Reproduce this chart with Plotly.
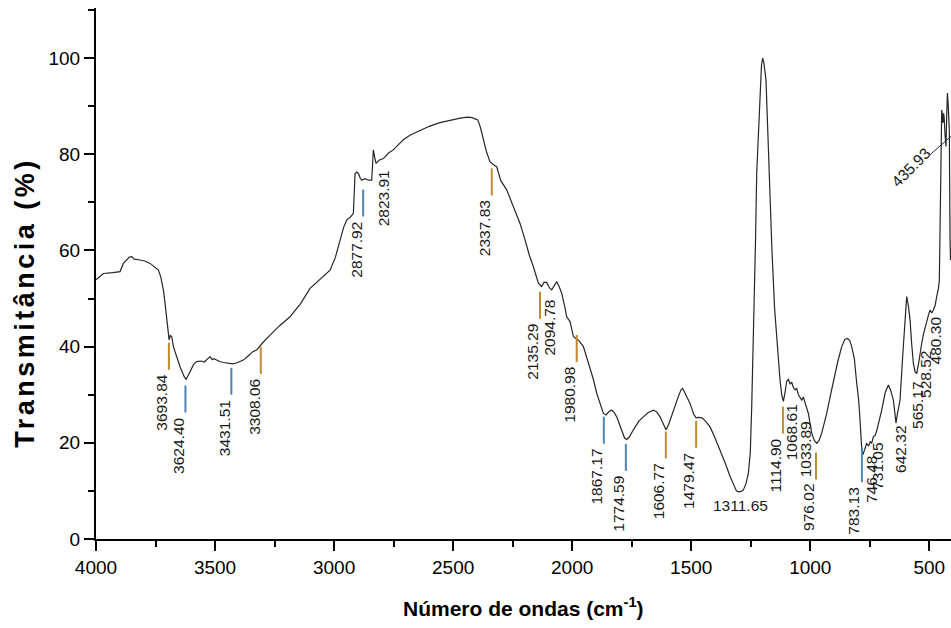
import numpy as np
import plotly.graph_objects as go

# ---------------- data ----------------
wavenumber = [4000, 3969, 3930, 3899, 3885, 3860, 3850, 3840, 3815, 3795, 3773, 3755, 3738, 3728,
              3717, 3710, 3703, 3697, 3693, 3688, 3682, 3675, 3660, 3647, 3630, 3622, 3613, 3605,
              3590, 3577, 3560, 3545, 3535, 3528, 3521, 3512, 3505, 3493, 3480, 3465, 3445, 3426,
              3410, 3395, 3381, 3360, 3340, 3325, 3300, 3269, 3230, 3185, 3140, 3101, 3060, 3017,
              2995, 2975, 2960, 2947, 2930, 2919, 2915, 2912, 2905, 2898, 2890, 2884, 2870, 2855,
              2842, 2838, 2835, 2830, 2824, 2810, 2793, 2770, 2751, 2730, 2709, 2680, 2639, 2600,
              2560, 2513, 2470, 2440, 2420, 2405, 2396, 2385, 2373, 2360, 2345, 2338, 2330, 2317,
              2300, 2275, 2250, 2219, 2198, 2180, 2163, 2150, 2142, 2128, 2118, 2107, 2095, 2086,
              2075, 2065, 2055, 2044, 2030, 2023, 2009, 1995, 1985, 1974, 1953, 1940, 1925, 1910,
              1897, 1880, 1869, 1858, 1845, 1834, 1825, 1813, 1800, 1792, 1780, 1771, 1760, 1743,
              1720, 1701, 1680, 1659, 1645, 1631, 1618, 1606, 1595, 1585, 1575, 1555, 1543, 1536,
              1528, 1515, 1505, 1490, 1480, 1470, 1455, 1440, 1421, 1400, 1379, 1355, 1337, 1320,
              1310, 1302, 1290, 1281, 1270, 1260, 1252, 1246, 1239, 1230, 1225, 1217, 1210, 1205,
              1200, 1195, 1186, 1180, 1172, 1161, 1150, 1141, 1134, 1127, 1120, 1113, 1106, 1099,
              1092, 1085, 1078, 1071, 1064, 1057, 1050, 1043, 1036, 1029, 1022, 1008, 994, 983,
              973, 963, 952, 940, 931, 917, 903, 885, 868, 855, 844, 835, 826, 815, 805, 797, 791,
              785, 779, 772, 763, 755, 748, 742, 735, 728, 721, 700, 685, 672, 663, 651, 645, 640,
              634, 623, 612, 602, 595, 588, 581, 574, 567, 560, 553, 545, 538, 532, 525, 518, 511,
              504, 497, 490, 483, 476, 469, 462, 458, 455, 452, 450, 448, 446, 443, 440, 438, 434,
              430, 427, 424, 421, 418, 416, 413, 411]
transmittance = [53.9, 55.2, 55.4, 55.6, 57.3, 58.6, 58.7, 58.2, 58.0, 57.8, 57.3, 56.6, 55.9, 54.5,
                 51.8, 49.0, 46.2, 43.5, 41.4, 42.3, 42.1, 40.0, 37.8, 35.8, 33.8, 33.2, 34.0, 34.8,
                 36.3, 36.9, 37.0, 36.8, 37.4, 37.6, 37.9, 37.3, 37.5, 37.2, 36.9, 36.7, 36.5, 36.4,
                 36.6, 36.9, 37.2, 38.1, 39.0, 39.3, 40.8, 42.4, 44.3, 46.2, 49.0, 52.1, 54.0, 55.9,
                 58.5, 62.2, 64.8, 66.3, 67.0, 67.7, 72.0, 76.0, 76.3, 76.0, 75.0, 74.6, 74.9, 74.6,
                 74.6, 77.5, 80.9, 79.5, 78.1, 78.8, 79.1, 80.3, 80.9, 82.0, 83.0, 84.0, 85.0, 85.8,
                 86.5, 87.1, 87.5, 87.7, 87.6, 87.3, 87.1, 85.5, 83.0, 80.5, 78.4, 78.1, 77.8, 77.4,
                 74.5, 72.6, 69.3, 65.6, 62.2, 59.0, 56.6, 54.5, 53.2, 52.5, 53.4, 53.3, 52.2, 51.8,
                 52.8, 53.5, 52.5, 51.1, 48.0, 46.2, 45.2, 42.1, 41.7, 41.4, 40.0, 38.0, 35.8, 33.0,
                 30.3, 27.5, 26.1, 25.8, 26.5, 26.8, 26.4, 25.4, 23.5, 22.3, 21.0, 20.7, 21.2, 22.7,
                 24.5, 25.4, 26.3, 26.8, 26.4, 25.4, 24.0, 22.7, 23.8, 25.3, 26.8, 29.5, 31.0, 31.3,
                 30.5, 29.0, 28.2, 26.0, 25.2, 25.3, 25.2, 24.5, 23.3, 21.0, 18.5, 15.5, 13.0, 11.0,
                 10.0, 9.8, 9.9, 10.2, 11.5, 13.7, 18.0, 27.5, 41.4, 62.0, 76.0, 86.5, 95.4, 98.5,
                 100.0, 99.0, 95.4, 86.5, 76.0, 60.1, 48.0, 41.4, 37.0, 33.0, 30.0, 28.6, 30.5, 32.8,
                 33.2, 32.2, 32.6, 31.5, 31.0, 31.3, 30.0, 29.5, 28.9, 29.5, 28.2, 26.1, 22.0, 20.5,
                 19.9, 20.5, 22.0, 24.3, 26.1, 29.5, 33.0, 36.8, 40.0, 41.5, 41.7, 41.3, 40.0, 37.5,
                 32.4, 29.0, 24.7, 19.5, 17.5, 18.5, 19.9, 19.3, 20.3, 19.9, 21.3, 21.5, 22.5, 26.8,
                 30.5, 32.0, 31.0, 28.9, 25.5, 24.1, 26.0, 28.9, 38.0, 46.9, 50.4, 48.5, 45.5, 40.5,
                 36.5, 34.8, 34.4, 36.5, 39.5, 40.7, 42.5, 44.0, 45.5, 46.5, 47.6, 47.0, 47.6, 48.5,
                 50.4, 52.0, 53.8, 65.0, 81.6, 86.0, 89.2, 88.5, 86.5, 88.5, 87.8, 84.0, 81.6, 88.0,
                 92.7, 90.5, 86.0, 85.0, 62.0, 58.0]

peak_labels = ["3693.84", "3624.40", "3431.51", "3308.06", "2877.92", "2823.91", "2337.83",
               "2135.29", "2094.78", "1980.98", "1867.17", "1774.59", "1606.77", "1479.47",
               "1311.65", "1114.90", "1068.61", "1033.89", "976.02", "783.13", "746.48",
               "731.05", "642.32", "565.17", "528.52", "480.30", "435.93"]
peak_wn = [3693.84, 3624.40, 3431.51, 3308.06, 2877.92, 2823.91, 2337.83, 2135.29, 2094.78,
           1980.98, 1867.17, 1774.59, 1606.77, 1479.47, 1311.65, 1114.90, 1068.61, 1033.89,
           976.02, 783.13, 746.48, 731.05, 642.32, 565.17, 528.52, 480.30, 435.93]
# marker group of each band: 'o' orange, 'b' blue, '' none
peak_group = ["o", "b", "b", "o", "b", "", "o", "o", "", "o", "b", "b", "o", "o", "", "o", "",
              "", "o", "b", "", "", "", "", "", "", ""]

x_ticks = [4000, 3500, 3000, 2500, 2000, 1500, 1000, 500]
y_ticks = [0, 20, 40, 60, 80, 100]

# ---------------- layout / style settings for the labels ----------------
label_gap = [5, 7, 4, 2, 10, 5, 5, 7, 10, -4, 3, 5, 2, 3, 5, 7, 14, 20, 10, 0, 12, 5, 4, 14, 10, 6, 0]
label_dx = [-7, -7, -7, -7, -7, 7, -7, -7, 0, -7, -7, -7, -7, -7, 4, -7, -3, 3, -7, -8, 1, 3, 5, 3, 3, 1, 0]
bar_len = 27
bar_colors = {"o": "#C08A2E", "b": "#4D84B3"}
text_color = "#1a1a1a"
FONT = "Liberation Sans, Arial, sans-serif"
LABEL_SIZE = 15.5

wn_arr = np.array(wavenumber, dtype=float)
t_arr = np.array(transmittance, dtype=float)


def curve_at(w):
    return float(np.interp(w, wn_arr[::-1], t_arr[::-1]))


fig = go.Figure()
fig.add_trace(go.Scatter(x=wavenumber, y=transmittance, mode="lines",
                         line=dict(color="#262626", width=1.2), hoverinfo="skip",
                         showlegend=False))

shapes = []
annotations = []
for lab, w, grp, gap, dx in zip(peak_labels, peak_wn, peak_group, label_gap, label_dx):
    t = curve_at(w)
    if lab == "1311.65":
        annotations.append(dict(x=w, y=t, xref="x", yref="y", text=lab, showarrow=False,
                                xanchor="center", yanchor="top", yshift=-gap, xshift=dx,
                                font=dict(size=LABEL_SIZE, color=text_color, family=FONT)))
        continue
    if lab == "435.93":
        shapes.append(dict(type="line", xref="x", yref="y", xsizemode="pixel", ysizemode="pixel",
                           xanchor=w, yanchor=t, x0=-15, y0=-29, x1=10, y1=-7,
                           line=dict(color="#1f2a44", width=1)))
        annotations.append(dict(x=w, y=t, xref="x", yref="y", text=lab, showarrow=False,
                                xanchor="center", yanchor="middle", xshift=-34, yshift=-41,
                                textangle=-45,
                                font=dict(size=LABEL_SIZE, color=text_color, family=FONT)))
        continue
    text_off = gap
    if grp:
        blen = 34 if lab == "783.13" else bar_len
        shapes.append(dict(type="line", xref="x", yref="y", ysizemode="pixel", yanchor=t,
                           x0=w, x1=w, y0=-gap, y1=-gap - blen,
                           line=dict(color=bar_colors[grp], width=2)))
        text_off = gap + blen + 3
    annotations.append(dict(x=w, y=t, xref="x", yref="y", text=lab, showarrow=False,
                            xanchor="center", yanchor="top", yshift=-text_off, xshift=dx,
                            textangle=-90,
                            font=dict(size=LABEL_SIZE, color=text_color, family=FONT)))

# axis titles
annotations.append(dict(x=0.5, y=0, xref="paper", yref="paper", yshift=-68,
                        text="<b>Número de ondas (cm<sup>-1</sup>)</b>", showarrow=False,
                        xanchor="center", yanchor="middle",
                        font=dict(size=21, color="black", family=FONT)))
annotations.append(dict(x=0, y=0.445, xref="paper", yref="paper", xshift=-71,
                        text='<span style="letter-spacing:3.5px"><b>Transmitância (%)</b></span>',
                        showarrow=False, textangle=-90,
                        xanchor="center", yanchor="middle",
                        font=dict(size=27, color="black", family=FONT)))

axis_common = dict(showline=True, linecolor="black", linewidth=2, ticks="outside",
                   tickcolor="black", tickwidth=2, ticklen=10, showgrid=False, zeroline=False,
                   tickfont=dict(size=19, color="black", family=FONT))

fig.update_layout(
    width=951, height=628,
    margin=dict(l=96, r=0, t=8, b=89),
    paper_bgcolor="white", plot_bgcolor="white",
    xaxis=dict(range=[4000, 409], tickmode="array", tickvals=x_ticks,
               ticktext=[str(v) for v in x_ticks],
               minor=dict(dtick=250, tick0=0, ticklen=6, tickwidth=2, tickcolor="black",
                          ticks="outside"),
               **axis_common),
    yaxis=dict(range=[0, 110.4], tickmode="array", tickvals=y_ticks,
               ticktext=[str(v) for v in y_ticks],
               minor=dict(dtick=10, tick0=0, ticklen=6, tickwidth=2, tickcolor="black",
                          ticks="outside"),
               **axis_common),
    shapes=shapes,
    annotations=annotations,
    showlegend=False,
)

fig.write_html("out.html")
